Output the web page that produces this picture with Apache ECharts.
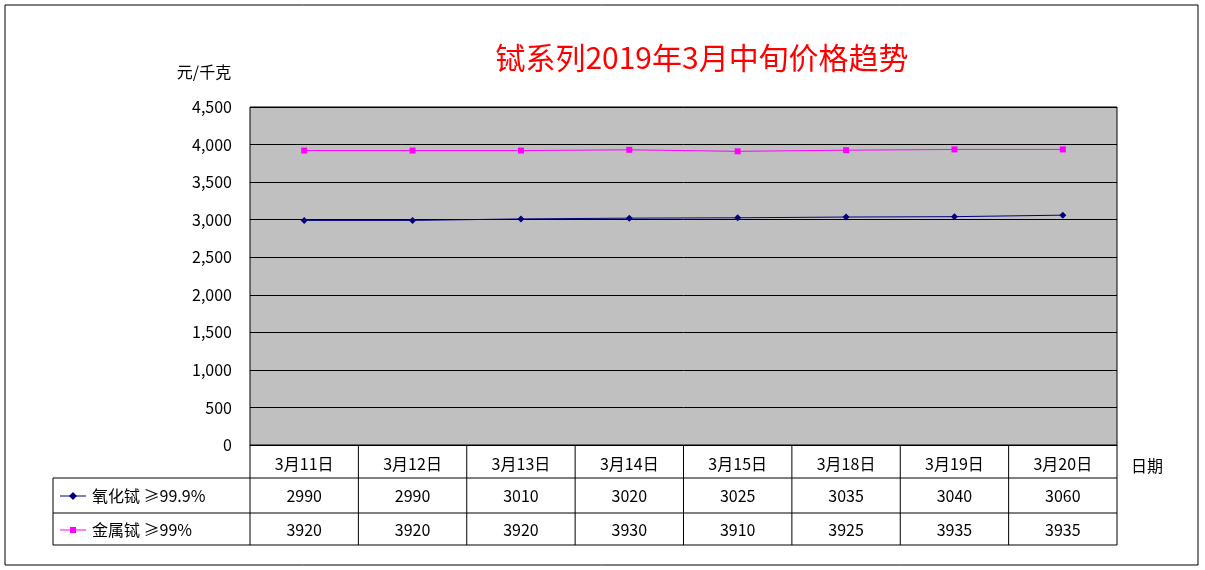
<!DOCTYPE html>
<html><head><meta charset="utf-8">
<script src="https://cdn.jsdelivr.net/npm/echarts@6/dist/echarts.min.js"></script>
<style>html,body{margin:0;padding:0;background:#fff}#c{width:1205px;height:570px}</style>
</head><body><div id="c"></div>
<script>
var categories=['3月11日','3月12日','3月13日','3月14日','3月15日','3月18日','3月19日','3月20日'];
var oxideName='氧化铽 ≥99.9%';
var metalName='金属铽 ≥99%';
var oxide=[2990,2990,3010,3020,3025,3035,3040,3060];
var metal=[3920,3920,3920,3930,3910,3925,3935,3935];
var F='"Noto Sans CJK SC", sans-serif';
var L=250,R=1117,T=107,B=445,W=R-L,n=categories.length,cw=W/n;
var g=[];
g.push({type:'rect',shape:{x:5,y:5,width:1193,height:560},style:{fill:'none',stroke:'#000',lineWidth:1}});
function hl(y,x1,x2){g.push({type:'line',shape:{x1:x1,y1:y,x2:x2,y2:y},style:{stroke:'#000',lineWidth:1}});}
function vl(x,y1,y2){g.push({type:'line',shape:{x1:x,y1:y1,x2:x,y2:y2},style:{stroke:'#000',lineWidth:1}});}
hl(478,53,R);hl(513,53,R);hl(545,53,R);
for(var i=0;i<=n;i++)vl(L+i*cw,B,545);
vl(53,478,545);
function txt(x,y,s,al,c){g.push({type:'text',x:x,y:y,style:{text:s,font:'16px '+F,fill:c||'#000',align:al||'center',verticalAlign:'middle'}});}
for(var i=0;i<n;i++){txt(L+(i+0.5)*cw,496,String(oxide[i]));txt(L+(i+0.5)*cw,530,String(metal[i]));}
g.push({type:'line',shape:{x1:60,y1:496,x2:86,y2:496},style:{stroke:'#000080',lineWidth:1}});
g.push({type:'polygon',shape:{points:[[73,492],[77,496],[73,500],[69,496]]},style:{fill:'#000080'}});
g.push({type:'line',shape:{x1:60,y1:530,x2:86,y2:530},style:{stroke:'#ff00ff',lineWidth:1}});
g.push({type:'rect',shape:{x:70,y:527,width:6,height:6},style:{fill:'#ff00ff'}});
txt(92,496,oxideName,'left');txt(92,530,metalName,'left');
txt(1147,466,'日期');
txt(204,72,'元/千克');
g.push({type:'text',x:702,y:58,style:{text:'铽系列2019年3月中旬价格趋势',font:'30px '+F,fill:'#ff0000',align:'center',verticalAlign:'middle'}});
var chart=echarts.init(document.getElementById('c'));
chart.setOption({
 animation:false,
 grid:{left:L,top:T,width:W,height:B-T,show:true,backgroundColor:'#c0c0c0',borderColor:'#000',borderWidth:1},
 xAxis:{type:'category',data:categories,boundaryGap:true,axisLine:{lineStyle:{color:'#000'}},axisTick:{show:false},
  axisLabel:{color:'#000',fontSize:16,fontFamily:F,margin:11}},
 yAxis:{type:'value',min:0,max:4500,interval:500,axisLine:{show:false},axisTick:{show:false},
  axisLabel:{color:'#000',fontSize:16,fontFamily:F,margin:18},splitLine:{lineStyle:{color:'#000'}}},
 series:[
  {name:oxideName,type:'line',data:oxide,symbol:'diamond',symbolSize:7,itemStyle:{color:'#000080'},lineStyle:{color:'#000080',width:1}},
  {name:metalName,type:'line',data:metal,symbol:'rect',symbolSize:6,itemStyle:{color:'#ff00ff'},lineStyle:{color:'#ff00ff',width:1}}
 ],
 graphic:g
});
</script></body></html>
